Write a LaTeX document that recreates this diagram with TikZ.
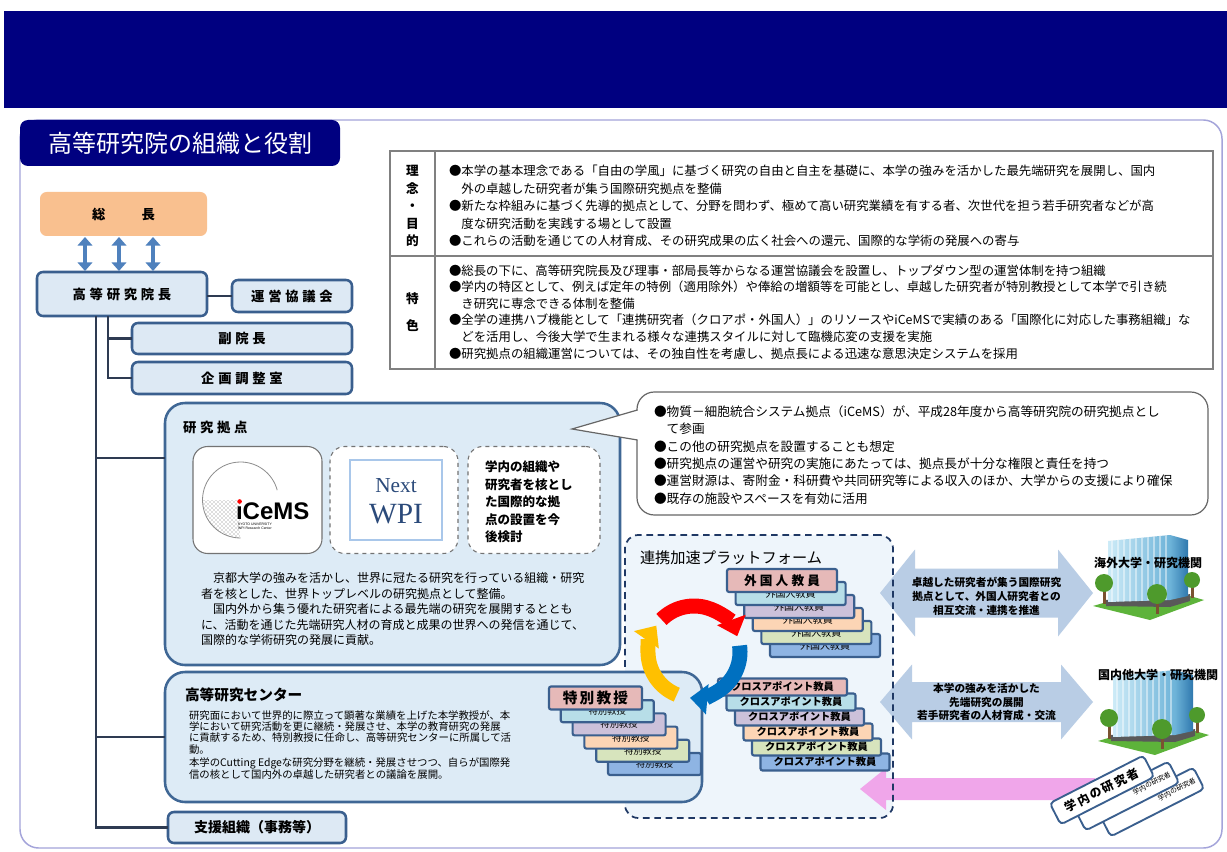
\documentclass[tikz,border=0pt]{standalone}
\usepackage{fontspec}
\setmainfont{Noto Sans CJK JP}
\newfontfamily\serifwpi{Liberation Serif}
\newfontfamily\logosans{Liberation Sans}
\usetikzlibrary{arrows.meta,calc,patterns}

\definecolor{navy}{HTML}{000080}
\definecolor{framec}{HTML}{A4A4DA}
\definecolor{orgfill}{HTML}{DDE9F4}
\definecolor{orgline}{HTML}{3A5F8E}
\definecolor{connc}{HTML}{2E3B52}
\definecolor{arrowblue}{HTML}{4F81BD}
\definecolor{presfill}{HTML}{F9C08F}
\definecolor{tblgray}{HTML}{808080}
\definecolor{basefill}{HTML}{DDEBF6}
\definecolor{panelline}{HTML}{3F6795}
\definecolor{platfill}{HTML}{EEF5FB}
\definecolor{platline}{HTML}{1F3864}
\definecolor{bigarrow}{HTML}{B9CDE5}
\definecolor{pinkarrow}{HTML}{F0A6EA}
\definecolor{cK}{HTML}{E6B9B8}
\definecolor{cL}{HTML}{B7DEE8}
\definecolor{cP}{HTML}{CCC1DA}
\definecolor{cO}{HTML}{FCD5B5}
\definecolor{cG}{HTML}{D7E4BD}
\definecolor{cB}{HTML}{8EB4E3}
\definecolor{ringred}{HTML}{FF0000}
\definecolor{ringblue}{HTML}{0070C0}
\definecolor{ringyellow}{HTML}{FFC000}
\definecolor{wpiblue}{HTML}{2B4A7A}
\definecolor{wpiframe}{HTML}{A9C7EA}
\definecolor{lawn}{HTML}{5DB33A}
\definecolor{treec}{HTML}{4E9A2C}
\definecolor{trunkc}{HTML}{7A5230}
\definecolor{towerlight}{HTML}{CDEBF7}
\definecolor{towermid}{HTML}{6DB3D8}
\definecolor{towerdark}{HTML}{2F78AE}

\newcommand\orgfont{\fontsize{10}{12}\selectfont\bfseries\addfontfeatures{LetterSpace=28}}

% one glass tower on its lawn, with three trees
\newcommand\drawtower{%
  \fill[lawn] (1093,606) -- (1150,620) -- (1204,600) -- (1158,587) -- cycle;
  \fill[black!65] (1106,600) -- (1170,598) -- (1190,594) -- (1190,601) -- (1170,607) -- (1106,606) -- cycle;
  \shade[left color=towerlight, right color=towermid] (1108,541) -- (1170,535) -- (1170,600) -- (1108,602) -- cycle;
  \begin{scope}
    \clip (1108,541) -- (1170,535) -- (1170,600) -- (1108,602) -- cycle;
    \foreach \sx in {1112,1118,...,1168} \draw[white, opacity=0.45, line width=0.9pt] (\sx,530) -- (\sx,605);
  \end{scope}
  \shade[left color=towermid, right color=towerdark] (1170,535) -- (1188,540) -- (1188,596) -- (1170,600) -- cycle;
  \fill[trunkc] (1102.5,588) rectangle (1105.5,604);
  \fill[treec] (1104,583) circle[radius=9];
  \fill[trunkc] (1155.5,598) rectangle (1158.5,614);
  \fill[treec] (1157,594) circle[radius=10];
  \fill[trunkc] (1191,584) rectangle (1193.5,598);
  \fill[treec] (1192,580) circle[radius=8];
}

\tikzset{
  sz/.style 2 args={minimum width=#1*0.75pt, minimum height=#2*0.75pt},
  orgbox/.style={draw=orgline, line width=1.9pt, fill=orgfill, rounded corners=4.5pt, font=\orgfont},
  conn/.style={draw=connc, line width=2.2pt},
  presarrow/.style={draw=arrowblue, line width=3.6pt, {Triangle[width=11pt,length=6.5pt]}-{Triangle[width=11pt,length=6.5pt]}},
  panel/.style={draw=panelline, line width=1.9pt, fill=basefill, rounded corners=15pt},
  innerbox/.style={draw=black!55, line width=0.8pt, fill=white, rounded corners=11pt},
  card/.style={draw=orgline, line width=1.6pt, rounded corners=1.5pt},
  ringarc/.style={line width=11.25pt, -{Triangle[width=22pt,length=13pt]}},
  rcard/.style={draw=orgline, line width=1.4pt, fill=white, rounded corners=3pt, rotate=27},
  rcardback/.style={rcard, text width=97*0.75pt, align=right, font=\fontsize{5.2}{6}\selectfont},
}

\begin{document}
\begin{tikzpicture}[x=0.75pt,y=-0.75pt, every node/.style={inner sep=0pt, outer sep=0pt}]
\useasboundingbox (0,0) rectangle (1227,852);
\fill[white] (0,0) rectangle (1227,852);

% header band, frame and title tab
\node[fill=navy, sz={1223}{97}] (band) at (615.5,59.5) {};
\node[draw=framec, line width=1.1pt, rounded corners=14pt, sz={1202}{728}] (frame) at (621,484) {};
\node[fill=navy, rounded corners=6pt, sz={320}{46}, text=white, font=\fontsize{18}{20}\selectfont] (tab) at (180,143) {高等研究院の組織と役割};

% aims and features table
\node[draw=tblgray, line width=2.2pt, fill=white, sz={823}{218}] (tbl) at (801.5,260) {};
\draw[draw=tblgray, line width=1.8pt] ($(tbl.north west)+(45,0)$) -- ($(tbl.south west)+(45,0)$);
\draw[draw=tblgray, line width=1.8pt] ($(tbl.north west)+(0,105)$) -- ($(tbl.north east)+(0,105)$);
\node[font=\fontsize{9.5}{13.1}\selectfont\bfseries, align=center] (aimlab) at (412.5,206) {理\\念\\・\\目\\的};
\node[font=\fontsize{9.5}{20}\selectfont\bfseries, align=center] (featlab) at (412.5,312) {特\\色};
\node[anchor=west, align=left, font=\fontsize{9.3}{13.1}\selectfont] (aimtxt) at (449,206) {%
●本学の基本理念である「自由の学風」に基づく研究の自由と自主を基礎に、本学の強みを活かした最先端研究を展開し、国内\\
　外の卓越した研究者が集う国際研究拠点を整備\\
●新たな枠組みに基づく先導的拠点として、分野を問わず、極めて高い研究業績を有する者、次世代を担う若手研究者などが高\\
　度な研究活動を実践する場として設置\\
●これらの活動を通じての人材育成、その研究成果の広く社会への還元、国際的な学術の発展への寄与};
\node[anchor=west, align=left, font=\fontsize{9.3}{12.4}\selectfont] (feattxt) at (449,312) {%
●総長の下に、高等研究院長及び理事・部局長等からなる運営協議会を設置し、トップダウン型の運営体制を持つ組織\\
●学内の特区として、例えば定年の特例（適用除外）や俸給の増額等を可能とし、卓越した研究者が特別教授として本学で引き続\\
　き研究に専念できる体制を整備\\
●全学の連携ハブ機能として「連携研究者（クロアポ・外国人）」のリソースやiCeMSで実績のある「国際化に対応した事務組織」な\\
　どを活用し、今後大学で生まれる様々な連携スタイルに対して臨機応変の支援を実施\\
●研究拠点の組織運営については、その独自性を考慮し、拠点長による迅速な意思決定システムを採用};

% organisation chart
\node[fill=presfill, rounded corners=5pt, sz={167}{44}, font=\fontsize{10}{12}\selectfont\bfseries] (pres) at (123.5,214) {総\hspace{27pt}長};
\node[orgbox, sz={170}{44}] (ias) at (122,294) {高等研究院長};
\node[orgbox, sz={120}{32}] (council) at (292,296) {運営協議会};
\node[orgbox, sz={220}{31}] (vp) at (242,338.5) {副院長};
\node[orgbox, sz={220}{32}] (plan) at (242,378) {企画調整室};
\foreach \d in {45,79,113}
  \draw[presarrow] ($(pres.south west)+(\d,1)$) -- ($(pres.south west |- ias.north)+(\d,-1)$);

% research bases panel
\node[panel, sz={455}{262}] (base) at (392.5,534) {};
\node[anchor=west, font=\orgfont] (basettl) at (183,427) {研究拠点};
\node[innerbox, sz={129}{107}] (icems) at (257.5,500) {};
\node[innerbox, dashed, sz={128}{107}] (nwpi) at (394,500) {};
\node[innerbox, dashed, sz={132}{107}] (future) at (534,500) {};
\coordinate (logoc) at ($(icems.center)+(-17,0)$);
\fill[pattern=crosshatch dots, pattern color=black!55] (logoc) -- ++(-38,0) arc[start angle=180, end angle=90, radius=38] -- cycle;
\draw[black!45, line width=0.6pt] ($(logoc)+(90:38)$) arc[start angle=90, end angle=345, radius=38];
\node[anchor=base west, font=\logosans\bfseries\fontsize{18}{18}\selectfont] (logotxt) at (236,519) {ıCeMS};
\fill[red] (239.6,501.5) circle[radius=2.3];
\node[anchor=north west, align=left, font=\logosans\fontsize{2.6}{3.2}\selectfont] (logosub) at (238,523) {KYOTO UNIVERSITY\\WPI Research Center};
\node[draw=wpiframe, line width=0.8pt, sz={92}{80}] (wpibox) at (396,500) {};
\node[font=\serifwpi\fontsize{16}{16}\selectfont, text=wpiblue] (nexttxt) at (396,486) {Next};
\node[font=\serifwpi\fontsize{22}{22}\selectfont, text=wpiblue] (wpitxt) at (396,514) {WPI};
\node[anchor=west, align=left, font=\fontsize{9.4}{13.1}\selectfont\bfseries] (futuretxt) at (485,502) {学内の組織や\\研究者を核とし\\た国際的な拠\\点の設置を今\\後検討};
\node[anchor=west, align=left, font=\fontsize{9}{11.6}\selectfont] (basetxt) at (201,609) {%
　京都大学の強みを活かし、世界に冠たる研究を行っている組織・研究\\
者を核とした、世界トップレベルの研究拠点として整備。\\
　国内外から集う優れた研究者による最先端の研究を展開するととも\\
に、活動を通じた先端研究人材の育成と成果の世界への発信を通じて、\\
国際的な学術研究の発展に貢献。};

% speech bubble
\node[draw=black!60, line width=0.9pt, fill=white, rounded corners=13pt, sz={571}{123}] (bubble) at (922.5,453.5) {};
\coordinate (tip) at (572,429);
\fill[white] ($(bubble.north west)+(3,18)$) -- (tip) -- ($(bubble.north west)+(3,48)$) -- cycle;
\draw[black!60, line width=0.9pt] ($(bubble.north west)+(0.4,18)$) -- (tip) -- ($(bubble.north west)+(0.4,48)$);
\node[anchor=west, align=left, font=\fontsize{9.5}{13}\selectfont] (bubtxt) at (654,455) {%
●物質－細胞統合システム拠点（iCeMS）が、平成28年度から高等研究院の研究拠点とし\\
　て参画\\
●この他の研究拠点を設置することも想定\\
●研究拠点の運営や研究の実施にあたっては、拠点長が十分な権限と責任を持つ\\
●運営財源は、寄附金・科研費や共同研究等による収入のほか、大学からの支援により確保\\
●既存の施設やスペースを有効に活用};

% collaboration platform
\node[fill=platfill, rounded corners=10pt, sz={268}{283}] (plat) at (759,676.5) {};

% exchange arrows and the inflow arrow
\coordinate (a1l) at (880,593);
\coordinate (a1r) at (1093,593);
\coordinate (a2l) at (880,702);
\coordinate (a2r) at (1093,702);
\fill[bigarrow] (a1l) -- ++(35,-43.5) -- ++(0,19) -- ($(a1r)+(-35,-24.5)$) -- ++(0,-19) -- (a1r)
  -- ++(-35,43.5) -- ++(0,-19) -- ($(a1l)+(35,24.5)$) -- ++(0,19) -- cycle;
\fill[bigarrow] (a2l) -- ++(32,-37.5) -- ++(0,17.5) -- ($(a2r)+(-32,-20)$) -- ++(0,-17.5) -- (a2r)
  -- ++(-32,37.5) -- ++(0,-17.5) -- ($(a2l)+(32,20)$) -- ++(0,17.5) -- cycle;
\node[align=center, font=\fontsize{8}{10.5}\selectfont\bfseries] (a1txt) at ($(a1l)!0.5!(a1r)+(0,3)$) {卓越した研究者が集う国際研究\\拠点として、外国人研究者との\\相互交流・連携を推進};
\node[align=center, font=\fontsize{8}{10}\selectfont\bfseries] (a2txt) at ($(a2l)!0.5!(a2r)$) {本学の強みを活かした\\先端研究の展開\\若手研究者の人材育成・交流};
\coordinate (ptip) at (860,789);
\coordinate (ptail) at (1095,789);
\fill[pinkarrow] (ptip) -- ++(26,-21) -- ++(0,10) -- ($(ptail)+(0,-11)$) -- ($(ptail)+(0,11)$)
  -- ($(ptip)+(26,11)$) -- ++(0,10) -- cycle;

\node[draw=platline, line width=1.3pt, dash pattern=on 5pt off 3.5pt, rounded corners=10pt, sz={268}{283}] (platedge) at (plat.center) {};
\node[anchor=west, font=\fontsize{11.4}{12}\selectfont] (plattl) at (640,558) {連携加速プラットフォーム};

% staff card stacks
\foreach \i/\c in {5/cB,4/cG,3/cO,2/cP,1/cL}
  \node[card, fill=\c, sz={110}{23}, font=\fontsize{7.5}{8}\selectfont] (fgn\i) at ({782+8.6*\i},{580.5+13*\i}) {外国人教員};
\node[card, fill=cK, sz={110}{23}, font=\fontsize{9.5}{10}\selectfont\bfseries\addfontfeatures{LetterSpace=25}] (fgn0) at (782,580.5) {外国人教員};
\foreach \i/\c in {5/cB,4/cG,3/cO,2/cP,1/cL,0/cK}
  \node[card, fill=\c, sz={129}{17}, font=\fontsize{7.7}{8}\selectfont\bfseries] (xap\i) at ({782.5+8.5*\i},{687+15*\i}) {クロスアポイント教員};

% advanced study centre
\node[panel, sz={537}{130}] (centre) at (433.5,737) {};
\node[anchor=west, font=\fontsize{11}{12}\selectfont\bfseries] (centrettl) at (185,695) {高等研究センター};
\node[anchor=north west, align=left, font=\fontsize{7.8}{8.3}\selectfont] (centretxtA) at (189,711) {%
研究面において世界的に際立って顕著な業績を上げた本学教授が、本\\
学において研究活動を更に継続・発展させ、本学の教育研究の発展\\
に貢献するため、特別教授に任命し、高等研究センターに所属して活\\
動。};
\node[anchor=north west, align=left, font=\fontsize{7.8}{9}\selectfont] (centretxtB) at (189,758) {%
本学のCutting Edgeな研究分野を継続・発展させつつ、自らが国際発\\
信の核として国内外の卓越した研究者との議論を展開。};
\foreach \i/\c in {5/cB,4/cG,3/cO,2/cP,1/cL}
  \node[card, fill=\c, sz={93}{22}, font=\fontsize{7}{8}\selectfont] (sp\i) at ({595.5+11.8*\i},{698+13.2*\i}) {特別教授};
\node[card, fill=cK, sz={93}{23}, font=\fontsize{11}{12}\selectfont\bfseries\addfontfeatures{LetterSpace=15}] (sp0) at (595.5,698) {特別教授};

% cycle of three arrows
\coordinate (ring) at (694,652);
\draw[ringarc, draw=ringred] ($(ring)+(-135:46)$) arc[start angle=-135, end angle=-20, radius=46];
\draw[ringarc, draw=ringblue] ($(ring)+(-8:46)$) arc[start angle=-8, end angle=95, radius=46];
\draw[ringarc, draw=ringyellow] ($(ring)+(112:46)$) arc[start angle=112, end angle=215, radius=46];

% support office
\node[orgbox, sz={178}{31}, font=\fontsize{10.5}{12}\selectfont\bfseries] (support) at (257,827.5) {支援組織（事務等）};

% chart connectors
\coordinate (trunk) at ($(ias.south west)+(59,0)$);
\coordinate (subtrunk) at ($(ias.south west)+(71,0)$);
\coordinate (baselink) at ($(base.north west)+(0,55)$);
\draw[conn] (trunk) |- (support.west);
\draw[conn] (trunk |- baselink) -- (baselink);
\draw[conn] (trunk |- centre.west) -- (centre.west);
\draw[conn] (subtrunk) |- (plan.west);
\draw[conn] (subtrunk |- vp.west) -- (vp.west);
\draw[conn] (ias.east |- council.west) -- (council.west);

% partner institutions
\drawtower
\begin{scope}[shift={(5,135)}]
\drawtower
\end{scope}
\node[font=\fontsize{9}{10}\selectfont\bfseries] (abroad) at (1148,563) {海外大学・研究機関};
\node[font=\fontsize{9}{10}\selectfont\bfseries] (domestic) at (1158,675) {国内他大学・研究機関};

% researchers inside the university
\node[rcardback, sz={105}{24}] (res2) at (1152,802) {学内の研究者};
\node[rcardback, sz={105}{24}] (res1) at (1127,796) {学内の研究者};
\node[rcard, sz={105}{24}, font=\fontsize{9}{10}\selectfont\bfseries\addfontfeatures{LetterSpace=15}] (res0) at (1102,790) {学内の研究者};
\end{tikzpicture}
\end{document}
